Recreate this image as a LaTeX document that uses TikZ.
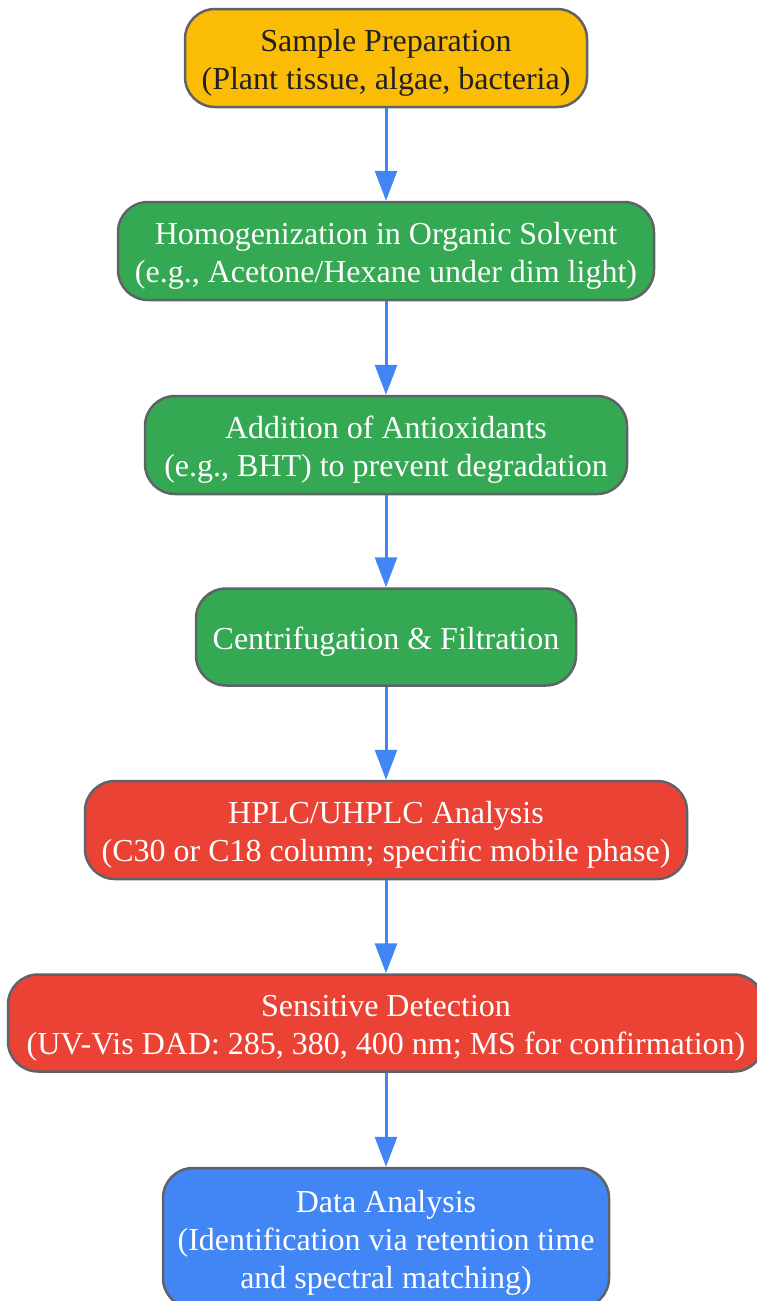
\documentclass[tikz,border=0pt]{standalone}
\usepackage{fontspec}
\setmainfont{Liberation Serif}
\usetikzlibrary{arrows.meta}
\definecolor{gyellow}{HTML}{FBBC05}
\definecolor{ggreen}{HTML}{34A853}
\definecolor{gred}{HTML}{EA4335}
\definecolor{gblue}{HTML}{4285F4}
\definecolor{gborder}{HTML}{5F6368}
\definecolor{gtext}{HTML}{202124}
\newcommand{\boxlines}[1]{\raisebox{-5pt}[\height][\depth]{\begin{tabular}{@{}c@{}}#1\end{tabular}}}
\begin{document}
\begin{tikzpicture}[x=1pt,y=-1pt,
  box/.style={draw=gborder, line width=2.5pt, rounded corners=30pt,
    font=\fontsize{32}{38}\selectfont, text=white, inner sep=0pt},
  flow/.style={draw=gblue, line width=3pt, -{Triangle[length=30pt,width=22pt]}}]
\useasboundingbox (0,0) rectangle (757,1301);
\node[box, fill=gyellow, text=gtext, minimum width=402pt, minimum height=98pt] (n1) at (386,58)
  {\boxlines{Sample Preparation\\(Plant tissue, algae, bacteria)}};
\node[box, fill=ggreen, minimum width=536pt, minimum height=98pt] (n2) at (386,251)
  {\boxlines{Homogenization in Organic Solvent\\(e.g., Acetone/Hexane under dim light)}};
\node[box, fill=ggreen, minimum width=482pt, minimum height=98pt] (n3) at (386,445)
  {\boxlines{Addition of Antioxidants\\(e.g., BHT) to prevent degradation}};
\node[box, fill=ggreen, minimum width=380pt, minimum height=97pt] (n4) at (386,637)
  {\boxlines{Centrifugation \& Filtration}};
\node[box, fill=gred, minimum width=602pt, minimum height=98pt] (n5) at (386,830)
  {\boxlines{HPLC/UHPLC Analysis\\(C30 or C18 column; specific mobile phase)}};
\node[box, fill=gred, minimum width=756pt, minimum height=97pt] (n6) at (386,1023)
  {\boxlines{Sensitive Detection\\(UV-Vis DAD: 285, 380, 400 nm; MS for confirmation)}};
\node[box, fill=gblue, minimum width=446pt, minimum height=140pt] (n7) at (386,1238)
  {\boxlines{Data Analysis\\(Identification via retention time\\and spectral matching)}};
\draw[flow] (n1) -- (n2);
\draw[flow] (n2) -- (n3);
\draw[flow] (n3) -- (n4);
\draw[flow] (n4) -- (n5);
\draw[flow] (n5) -- (n6);
\draw[flow] (n6) -- (n7);
\end{tikzpicture}
\end{document}
